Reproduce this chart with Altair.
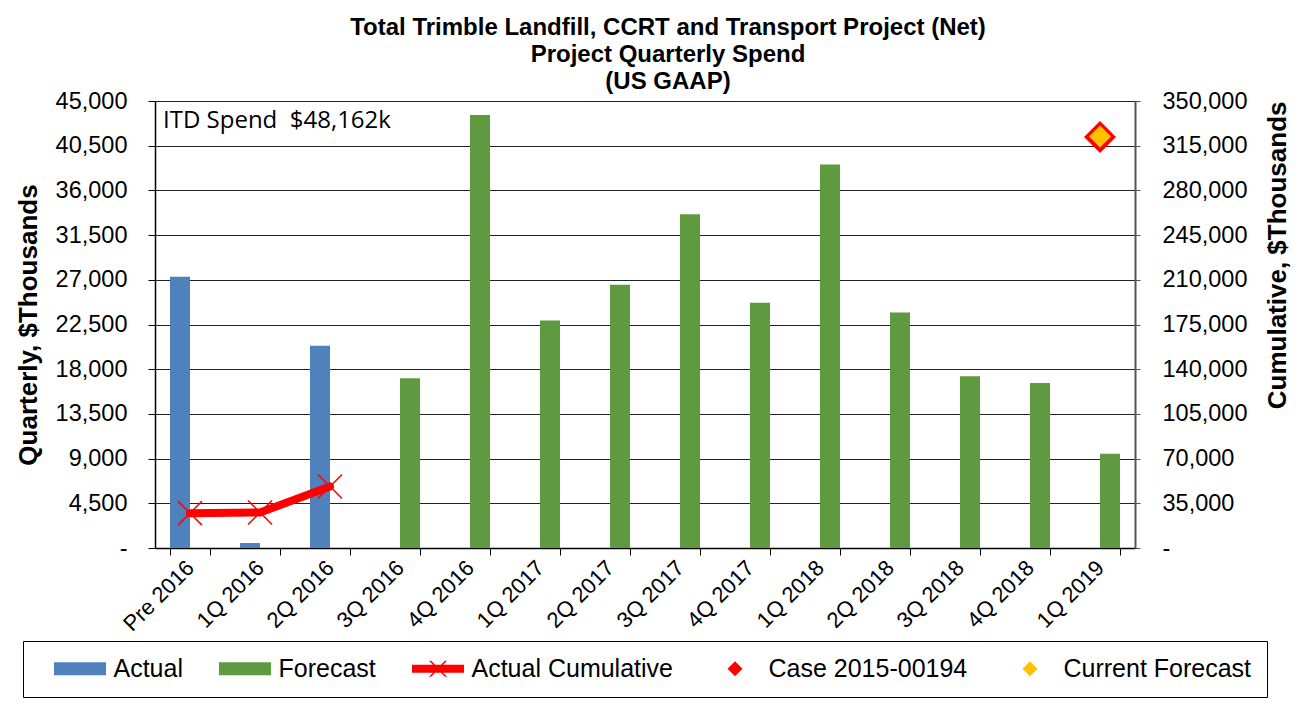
import altair as alt
import pandas as pd

# ---------------- data ----------------
quarters = ["Pre 2016", "1Q 2016", "2Q 2016", "3Q 2016", "4Q 2016", "1Q 2017", "2Q 2017",
            "3Q 2017", "4Q 2017", "1Q 2018", "2Q 2018", "3Q 2018", "4Q 2018", "1Q 2019"]
bar_series = ["Actual"] * 3 + ["Forecast"] * 11
quarterly = [27300, 500, 20362, 17100, 43600, 22900, 26500, 33600, 24700, 38600, 23700, 17300, 16600, 9500]

cum_quarters = ["Pre 2016", "1Q 2016", "2Q 2016"]
cum_values = [27300, 27800, 48162]

marker_quarter = "1Q 2019"
case_value = 321900
current_value = 322262

itd_label = "ITD Spend"
itd_value = 48162

series_names = ["Actual", "Forecast", "Actual Cumulative", "Case 2015-00194", "Current Forecast"]
series_colors = ["#4F81BD", "#5F9A41", "#FF0000", "#FF0000", "#FFC000"]

left_ticks = [0, 4500, 9000, 13500, 18000, 22500, 27000, 31500, 36000, 40500, 45000]
right_ticks = [0, 35000, 70000, 105000, 140000, 175000, 210000, 245000, 280000, 315000, 350000]

title_lines = ["Total Trimble Landfill, CCRT and Transport Project (Net)",
               "Project Quarterly Spend", "(US GAAP)"]

# ---------------- tables ----------------
bars_df = pd.DataFrame({"quarter": quarters, "series": bar_series, "value": quarterly})
cum_df = pd.DataFrame({"quarter": cum_quarters, "cum": cum_values})
case_df = pd.DataFrame({"quarter": [marker_quarter], "cum": [case_value], "series": ["Case 2015-00194"]})
cur_df = pd.DataFrame({"quarter": [marker_quarter], "cum": [current_value], "series": ["Current Forecast"]})
itd_df = pd.DataFrame({"t": [f"{itd_label}\u00a0\u00a0${itd_value:,}k"]})

# ---------------- symbols (unit = 12.5 px in the legend) ----------------
RECT = "M-2.08,-0.52L2.08,-0.52L2.08,0.52L-2.08,0.52Z"
CUM = ("M-2.08,-0.32L2.08,-0.32L2.08,0.32L-2.08,0.32Z"
       "M-0.72,-0.64L-0.55,-0.64L0.72,0.64L0.55,0.64Z"
       "M0.55,-0.64L0.72,-0.64L-0.55,0.64L-0.72,0.64Z")
DIAMOND = "M0,-0.6L0.6,0L0,0.6L-0.6,0Z"
XMARK = "M-1,-1L1,1M-1,1L1,-1"

color_scale = alt.Scale(domain=series_names, range=series_colors)
shape_scale = alt.Scale(domain=series_names, range=[RECT, RECT, CUM, DIAMOND, DIAMOND])

legend = alt.Legend(
    title="\u00a0", titleOrient="left", titleFontSize=25, titlePadding=16,
    orient="none", legendX=-132, legendY=540, direction="horizontal", columns=5,
    columnPadding=36, symbolSize=625, symbolStrokeWidth=0, symbolOpacity=1,
    symbolOffset=13.5,
    labelFont="Liberation Sans", labelFontSize=25, labelColor="black", labelOffset=21,
    labelLimit=500, padding=15, strokeColor="black", fillColor="white", cornerRadius=0,
)

x_enc = alt.X(
    "quarter:N",
    scale=alt.Scale(domain=quarters, paddingInner=0.4286, paddingOuter=0.2143),
    sort=quarters,
    axis=alt.Axis(
        title=None, labelAngle=315, labelFontSize=22, labelFont="Liberation Sans",
        labelColor="black", labelBaseline="middle", labelAlign="right",
        tickBand="extent", tickSize=7, tickColor="black",
        domainColor="black", domainWidth=1.5, labelPadding=9, grid=False,
    ),
)

y_left = alt.Y(
    "value:Q",
    scale=alt.Scale(domain=[0, 45000], nice=False),
    axis=alt.Axis(
        orient="left", values=left_ticks, title="Quarterly, $Thousands",
        titleFontSize=26, titleFont="Liberation Sans", titleFontWeight="bold",
        titleColor="black", titlePadding=14,
        labelExpr="datum.value == 0 ? '-\u00a0\u00a0' : format(datum.value, ',')",
        labelFontSize=23.5, labelFont="Liberation Sans", labelColor="black", labelPadding=21,
        tickSize=7, tickColor="black", domainColor="black", domainWidth=1.5,
        grid=True, gridColor="#222222", gridWidth=1,
    ),
)

y_right = alt.Y(
    "cum:Q",
    scale=alt.Scale(domain=[0, 350000], nice=False),
    axis=alt.Axis(
        orient="right", values=right_ticks, title="Cumulative, $Thousands",
        titleFontSize=26, titleFont="Liberation Sans", titleFontWeight="bold",
        titleColor="black", titlePadding=44, titleAngle=270, titleAnchor="end",
        labelExpr="datum.value == 0 ? '-' : format(datum.value, ',')",
        labelFontSize=23.5, labelFont="Liberation Sans", labelColor="black", labelPadding=22,
        tickSize=5, tickColor="#555555", domainColor="#555555", domainWidth=2, grid=False,
    ),
)

bars = alt.Chart(bars_df).mark_bar().encode(
    x=x_enc,
    xOffset=alt.XOffset("series:N", scale=alt.Scale(domain=["Actual", "Forecast"], paddingInner=0, paddingOuter=0)),
    y=y_left,
    color=alt.Color("series:N", scale=color_scale, legend=legend),
)

itd = alt.Chart(itd_df).mark_text(
    align="left", baseline="alphabetic", font="Open Sans", fontSize=24, color="black"
).encode(x=alt.value(8), y=alt.value(27), text="t:N")

line = alt.Chart(cum_df).mark_line(
    color="#FF0000", strokeWidth=8, strokeCap="round", strokeJoin="round"
).encode(x=x_enc, y=y_right)

xpts = alt.Chart(cum_df).mark_point(
    shape=XMARK, filled=False, color="#FF0000", strokeWidth=1.5, size=576, opacity=1
).encode(x=x_enc, y=y_right)

case_pts = alt.Chart(case_df).mark_point(filled=True, size=2844, opacity=1).encode(
    x=x_enc, y=y_right,
    color=alt.Color("series:N", scale=color_scale, legend=legend),
    shape=alt.Shape("series:N", scale=shape_scale, legend=legend),
)

cur_pts = alt.Chart(cur_df).mark_point(filled=True, size=1344, opacity=1).encode(
    x=x_enc, y=y_right,
    color=alt.Color("series:N", scale=color_scale, legend=legend),
    shape=alt.Shape("series:N", scale=shape_scale, legend=legend),
)

right_layer = alt.layer(line, xpts, case_pts, cur_pts)

chart = alt.layer(bars, right_layer, itd).resolve_scale(y="independent").properties(
    width=980, height=447,
    autosize=alt.AutoSizeParams(type="none"),
    padding={"left": 147, "top": 93, "right": 159, "bottom": 150},
    title=alt.TitleParams(
        text=title_lines, fontSize=24, font="Liberation Sans", fontWeight="bold",
        color="black", lineHeight=27, anchor="middle", frame="group", dx=23, dy=13, offset=8,
    ),
).configure_view(stroke="#A0A0A0", strokeWidth=2).configure(background="white")

chart.save("out.html", embed_options={"renderer": "svg", "actions": False})
